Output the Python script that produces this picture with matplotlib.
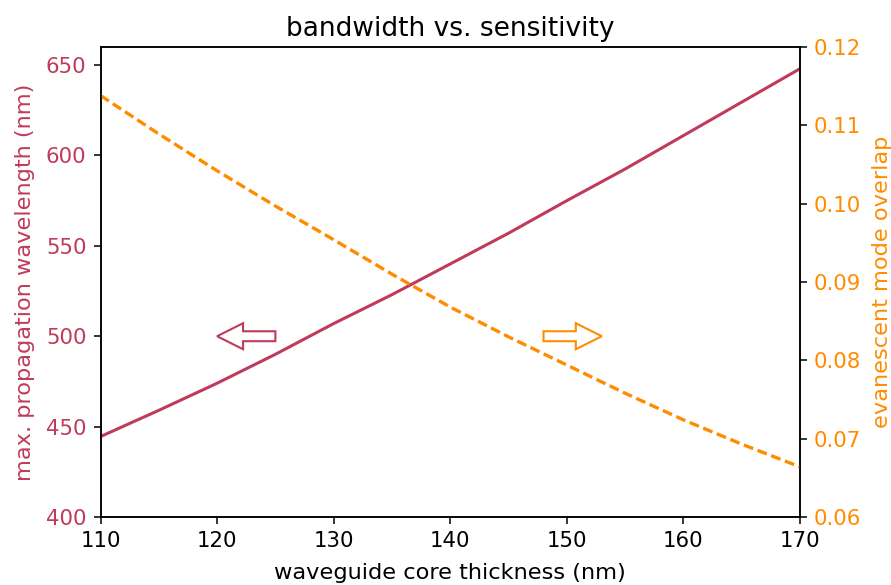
import matplotlib
matplotlib.use("Agg")
import matplotlib.pyplot as plt

thickness = [110, 115, 120, 125, 130, 135, 140, 145, 150, 155, 160, 165, 170]
max_wavelength = [444.5, 459, 474, 490, 507, 523, 540, 557, 575, 592.5, 611, 629.5, 648]
overlap = [0.1138, 0.1089, 0.1042, 0.0997, 0.0954, 0.0910, 0.0868, 0.0830,
           0.0794, 0.0758, 0.0724, 0.0693, 0.0664]

red = "#c03a5b"
orange = "#ff8c00"

fig = plt.figure(figsize=(8.91, 5.85), dpi=100)
ax1 = fig.add_axes([100.5/891, 1-517/585, (800-100.5)/891, (517-47)/585])
ax2 = ax1.twinx()

ax1.plot(thickness, max_wavelength, color=red, lw=2.2)
ax2.plot(thickness, overlap, color=orange, lw=2.4, linestyle=(0, (3.0, 1.4)))

ax1.set_xlim(110, 170)
ax1.set_ylim(400, 660)
ax2.set_ylim(0.06, 0.12)
ax1.set_xticks([110, 120, 130, 140, 150, 160, 170])
ax1.set_yticks([400, 450, 500, 550, 600, 650])
ax2.set_yticks([0.06, 0.07, 0.08, 0.09, 0.10, 0.11, 0.12])
ax2.set_yticklabels(["0.06", "0.07", "0.08", "0.09", "0.10", "0.11", "0.12"])

fs_tick = 15.3
fs_lab = 16.2
ax1.tick_params(axis='x', labelsize=fs_tick, length=5, width=1.1, pad=5)
ax1.tick_params(axis='y', labelsize=fs_tick, labelcolor=red, length=5, width=1.1, pad=5)
ax2.tick_params(axis='y', labelsize=fs_tick, labelcolor=orange, length=5, width=1.1, pad=5)
for ax in (ax1, ax2):
    for s in ax.spines.values():
        s.set_linewidth(1.1)

ax1.set_xlabel("waveguide core thickness (nm)", fontsize=fs_lab, labelpad=9)
ax1.set_ylabel("max. propagation wavelength (nm)", fontsize=fs_lab, color=red, labelpad=8)
ax2.set_ylabel("evanescent mode overlap", fontsize=fs_lab, color=orange, labelpad=8)
ax1.set_title("bandwidth vs. sensitivity", fontsize=19, pad=8)

ax1.arrow(125, 500, -5, 0, width=5.5, head_width=14.4, head_length=2.23,
          length_includes_head=True, fill=False, edgecolor=red, lw=1.5)
ax1.arrow(148, 500, 5, 0, width=5.5, head_width=14.4, head_length=2.23,
          length_includes_head=True, fill=False, edgecolor=orange, lw=1.5)

fig.savefig("out.png", dpi=100)
